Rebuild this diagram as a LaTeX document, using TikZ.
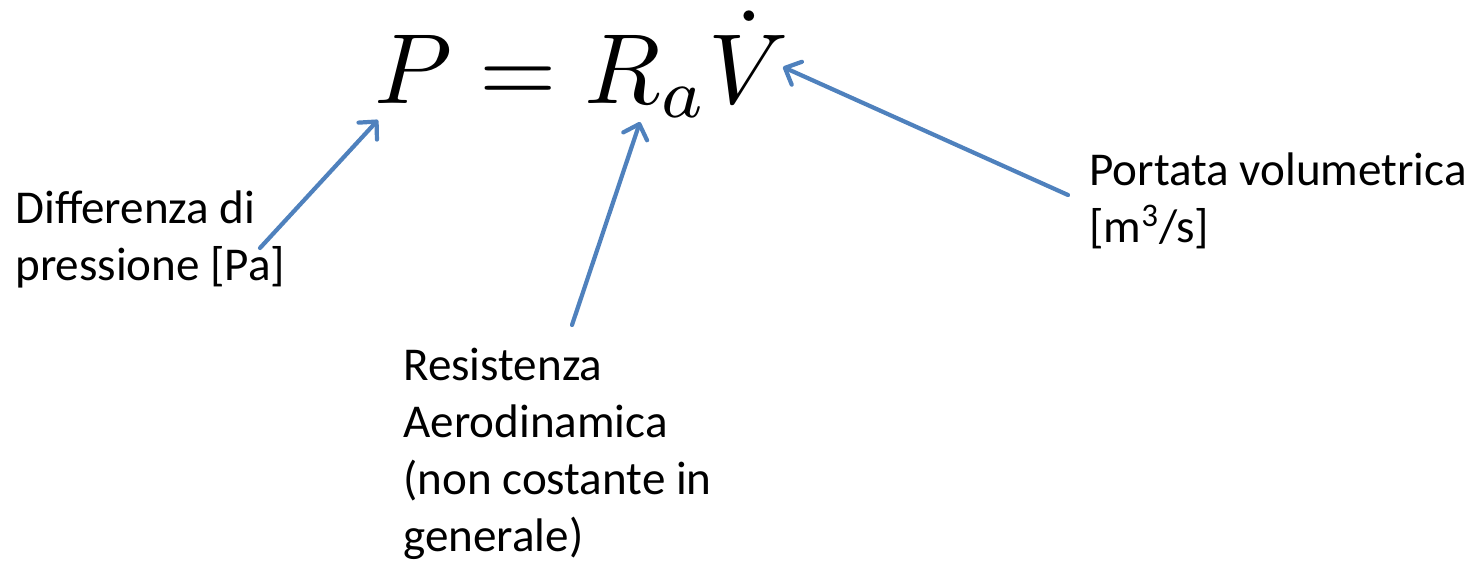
\documentclass[tikz,border=0pt]{standalone}
\usepackage{fontspec}
\setmainfont{Carlito}
\usetikzlibrary{arrows.meta}
\definecolor{arrblue}{HTML}{4F81BD}

\begin{document}
\begin{tikzpicture}[x=0.02cm, y=-0.02cm,
  lbl/.style={font=\fontsize{26.8}{32.4}\selectfont, align=left, inner sep=0pt, anchor=base west},
  arr/.style={-{Straight Barb[length=2.6mm, width=5mm, line cap=round, line join=round]},
              line width=2.4pt, draw=arrblue, line cap=round},
]
  \useasboundingbox (0,0) rectangle (1473,561);

  % equation
  \node[inner sep=0pt, anchor=base west] (eq) at (374,103)
    {\scalebox{5.67}{$P = R_a\dot{V}$}};

  % labels (anchored at the last baseline)
  \node[lbl] (dp) at (15,280) {Differenza di\\pressione [Pa]};
  \node[lbl] (ra) at (403,551) {Resistenza\\Aerodinamica\\(non costante in\\generale)};
  \node[lbl] (qv) at (1089,242) {Portata volumetrica\\{}[m\textsuperscript{3}/s]};

  % arrow ends
  \coordinate (dpTail) at (260,248);
  \coordinate (dpTip)  at (378,120);
  \coordinate (raTail) at (572,325);
  \coordinate (raTip)  at (640,122);
  \coordinate (qvTail) at (1068,195);
  \coordinate (qvTip)  at (783,67);

  \draw[arr] (dpTail) -- (dpTip);
  \draw[arr] (raTail) -- (raTip);
  \draw[arr] (qvTail) -- (qvTip);
\end{tikzpicture}
\end{document}
